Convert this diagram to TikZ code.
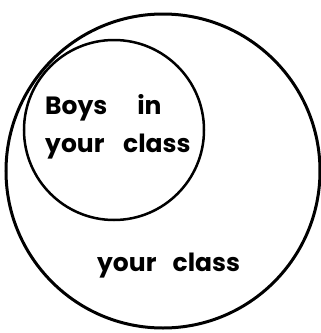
\documentclass[tikz,border=0pt]{standalone}
\usepackage{fontspec}
\setmainfont{Poppins}
\begin{document}
\begin{tikzpicture}[x=1pt,y=-1pt,
  setcircle/.style={draw=black,circle,line width=3pt,inner sep=0pt},
  label/.style={font=\fontsize{25}{28}\selectfont\bfseries,inner sep=0pt,anchor=base west}]
\useasboundingbox (0,0) rectangle (321,333);
\node[setcircle,minimum size=314pt] (all) at (163,171) {};
\node[setcircle,line width=2.5pt,minimum size=180pt] (boys) at (114,130) {};
\node[label] (t1) at (45,114) {Boys\hspace{1.2em}in};
\node[label] (t2) at (45,152) {your\hspace{0.75em}class};
\node[label] (t3) at (97,271) {your\hspace{0.65em}class};
\end{tikzpicture}
\end{document}
